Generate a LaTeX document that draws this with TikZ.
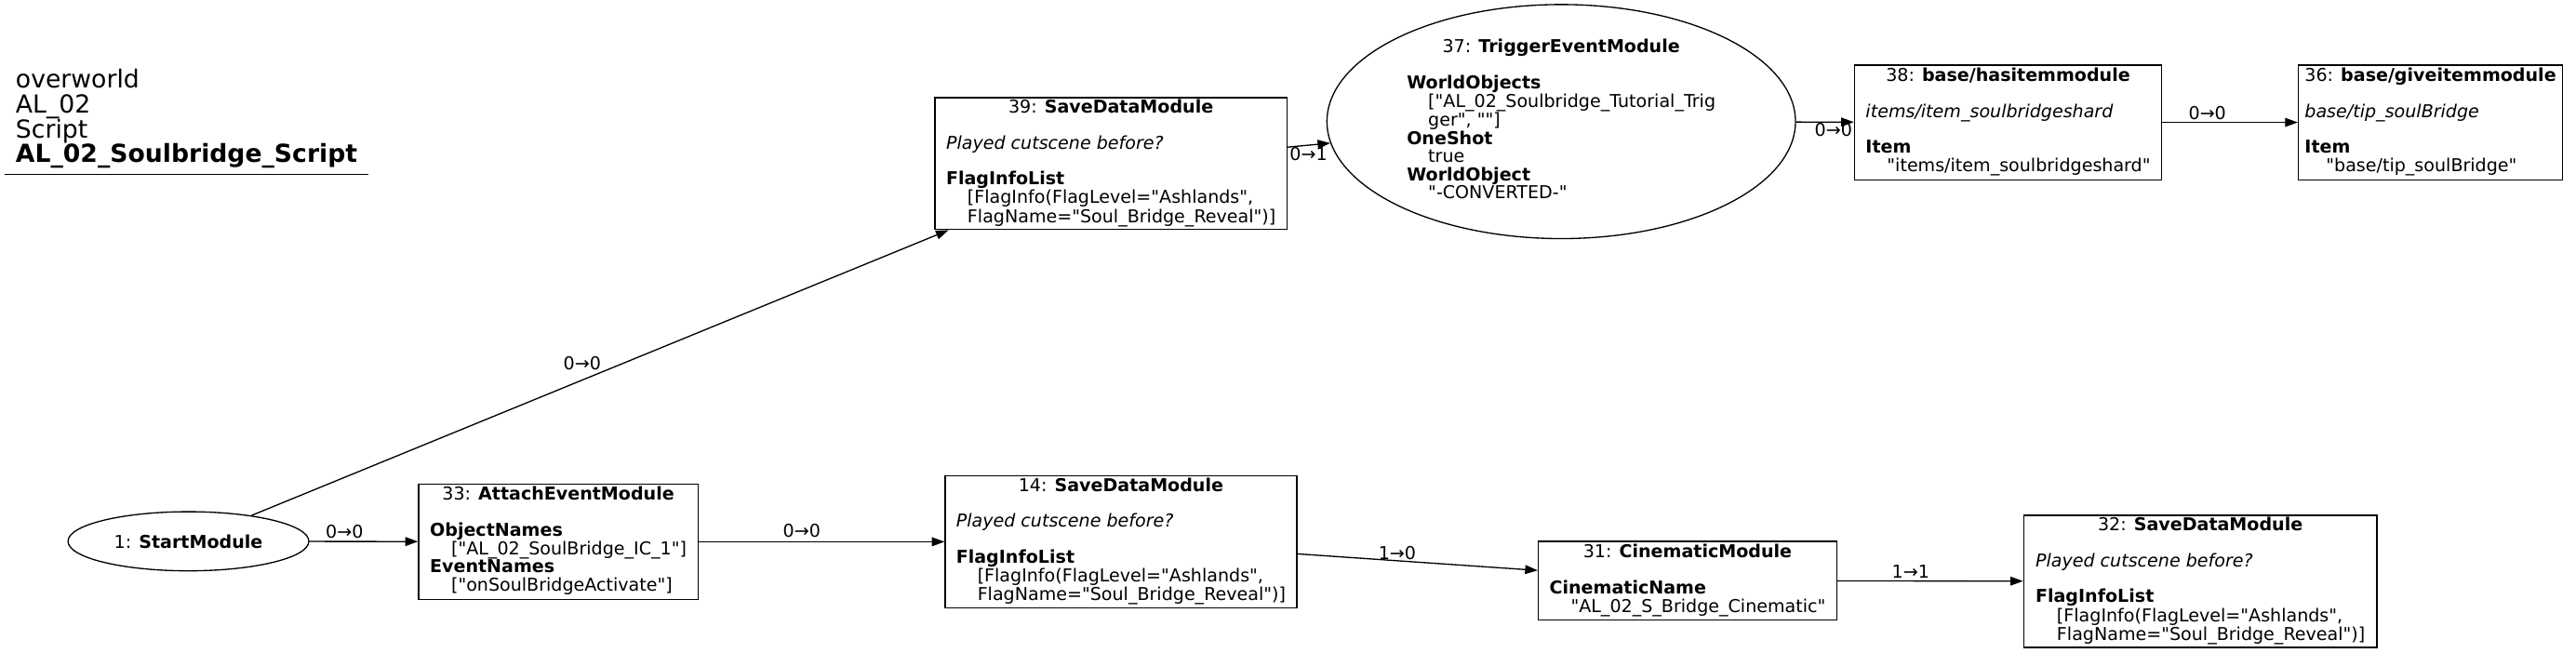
\documentclass[tikz,border=0pt]{standalone}
\usepackage{fontspec}
\setmainfont{DejaVu Sans}[Ligatures=TeXOff]
\usetikzlibrary{shapes.geometric, arrows.meta}

\begin{document}
\begin{tikzpicture}[x=1pt, y=-1pt,
        modbox/.style={draw, rectangle, line width=0.75pt, inner sep=0pt, font=\fontsize{10.8}{10.5}\selectfont},
        modoval/.style={draw, ellipse, line width=0.75pt, inner sep=0pt, font=\fontsize{10.8}{10.5}\selectfont},
        edgelbl/.style={inner sep=0pt, font=\fontsize{10.8}{10.5}\selectfont},
        link/.style={-{Triangle[length=7.7pt, width=5.4pt]}, line width=0.75pt}
    ]
        \useasboundingbox (0,0) rectangle (1568,397);

        % title block
        \node[anchor=south west, align=left, inner xsep=6.6pt, inner ysep=3.6pt, font=\fontsize{15.1}{15.1}\selectfont] (ttl) at (2.8,106.3)
            {overworld\\AL\_02\\Script\\\textbf{AL\_02\_Soulbridge\_Script}};
        \draw[line width=0.75pt] (ttl.south west) -- (ttl.south east);

        % modules
        \node[modoval, minimum width=146.6pt, minimum height=36pt] (n1) at (114.7,329.5) {1: \textbf{StartModule}};
        \node[modbox, minimum width=170pt, minimum height=70pt] (n33) at (339.8,329.8)
            {\begin{tabular}{@{}l@{}}\multicolumn{1}{@{}c@{}}{33: \textbf{AttachEventModule}}\\ \\
            \textbf{ObjectNames}\\ \hspace*{13pt}["AL\_02\_SoulBridge\_IC\_1"]\\
            \textbf{EventNames}\\ \hspace*{13pt}["onSoulBridgeActivate"]\end{tabular}};
        \node[modbox, minimum width=214.2pt, minimum height=80.2pt] (n39) at (676.2,99.6)
            {\begin{tabular}{@{}l@{}}\multicolumn{1}{@{}c@{}}{39: \textbf{SaveDataModule}}\\ \\
            \textit{Played cutscene before?}\\ \\
            \textbf{FlagInfoList}\\ \hspace*{13pt}[FlagInfo(FlagLevel="Ashlands",\\
            \hspace*{13pt}FlagName="Soul\_Bridge\_Reveal")]\end{tabular}};
        \node[modoval, minimum width=285.2pt, minimum height=142.5pt] (n37) at (950.3,74)
            {\begin{tabular}{@{}l@{}}\multicolumn{1}{@{}c@{}}{37: \textbf{TriggerEventModule}}\\ \\
            \textbf{WorldObjects}\\ \hspace*{13pt}["AL\_02\_Soulbridge\_Tutorial\_Trig\\
            \hspace*{13pt}ger", ""]\\
            \textbf{OneShot}\\ \hspace*{13pt}true\\
            \textbf{WorldObject}\\ \hspace*{13pt}"-CONVERTED-"\end{tabular}};
        \node[modbox, minimum width=187pt, minimum height=69.9pt] (n38) at (1222.3,74.5)
            {\begin{tabular}{@{}l@{}}\multicolumn{1}{@{}c@{}}{38: \textbf{base/hasitemmodule}}\\ \\
            \textit{items/item\_soulbridgeshard}\\ \\
            \textbf{Item}\\ \hspace*{13pt}"items/item\_soulbridgeshard"\end{tabular}};
        \node[modbox, minimum width=160.8pt, minimum height=69.9pt] (n36) at (1479.4,74.5)
            {\begin{tabular}{@{}l@{}}\multicolumn{1}{@{}c@{}}{36: \textbf{base/giveitemmodule}}\\ \\
            \textit{base/tip\_soulBridge}\\ \\
            \textbf{Item}\\ \hspace*{13pt}"base/tip\_soulBridge"\end{tabular}};
        \node[modbox, minimum width=214pt, minimum height=80.2pt] (n14) at (682.3,329.8)
            {\begin{tabular}{@{}l@{}}\multicolumn{1}{@{}c@{}}{14: \textbf{SaveDataModule}}\\ \\
            \textit{Played cutscene before?}\\ \\
            \textbf{FlagInfoList}\\ \hspace*{13pt}[FlagInfo(FlagLevel="Ashlands",\\
            \hspace*{13pt}FlagName="Soul\_Bridge\_Reveal")]\end{tabular}};
        \node[modbox, minimum width=181.6pt, minimum height=48pt] (n31) at (1027.2,353.5)
            {\begin{tabular}{@{}l@{}}\multicolumn{1}{@{}c@{}}{31: \textbf{CinematicModule}}\\ \\
            \textbf{CinematicName}\\ \hspace*{13pt}"AL\_02\_S\_Bridge\_Cinematic"\end{tabular}};
        \node[modbox, minimum width=215pt, minimum height=80.4pt] (n32) at (1339.3,353.9)
            {\begin{tabular}{@{}l@{}}\multicolumn{1}{@{}c@{}}{32: \textbf{SaveDataModule}}\\ \\
            \textit{Played cutscene before?}\\ \\
            \textbf{FlagInfoList}\\ \hspace*{13pt}[FlagInfo(FlagLevel="Ashlands",\\
            \hspace*{13pt}FlagName="Soul\_Bridge\_Reveal")]\end{tabular}};

        % links
        \draw[link] (n1) -- (n39);
        \draw[link] (n1) -- (n33);
        \draw[link] (n33) -- (n14);
        \draw[link] (n39) -- (n37);
        \draw[link] (n37) -- (n38);
        \draw[link] (n38) -- (n36);
        \draw[link] (n14) -- (n31);
        \draw[link] (n31) -- (n32);

        % link labels
        \node[edgelbl] (l1to39) at (354.4,221) {0→0};
        \node[edgelbl] (l1to33) at (209.7,323.7) {0→0};
        \node[edgelbl] (l33to14) at (488,323) {0→0};
        \node[edgelbl] (l39to37) at (796.5,94) {0→1};
        \node[edgelbl] (l37to38) at (1116,78.9) {0→0};
        \node[edgelbl] (l38to36) at (1343.6,68.9) {0→0};
        \node[edgelbl] (l14to31) at (850.5,336.5) {1→0};
        \node[edgelbl] (l31to32) at (1163,348) {1→1};
\end{tikzpicture}
\end{document}
